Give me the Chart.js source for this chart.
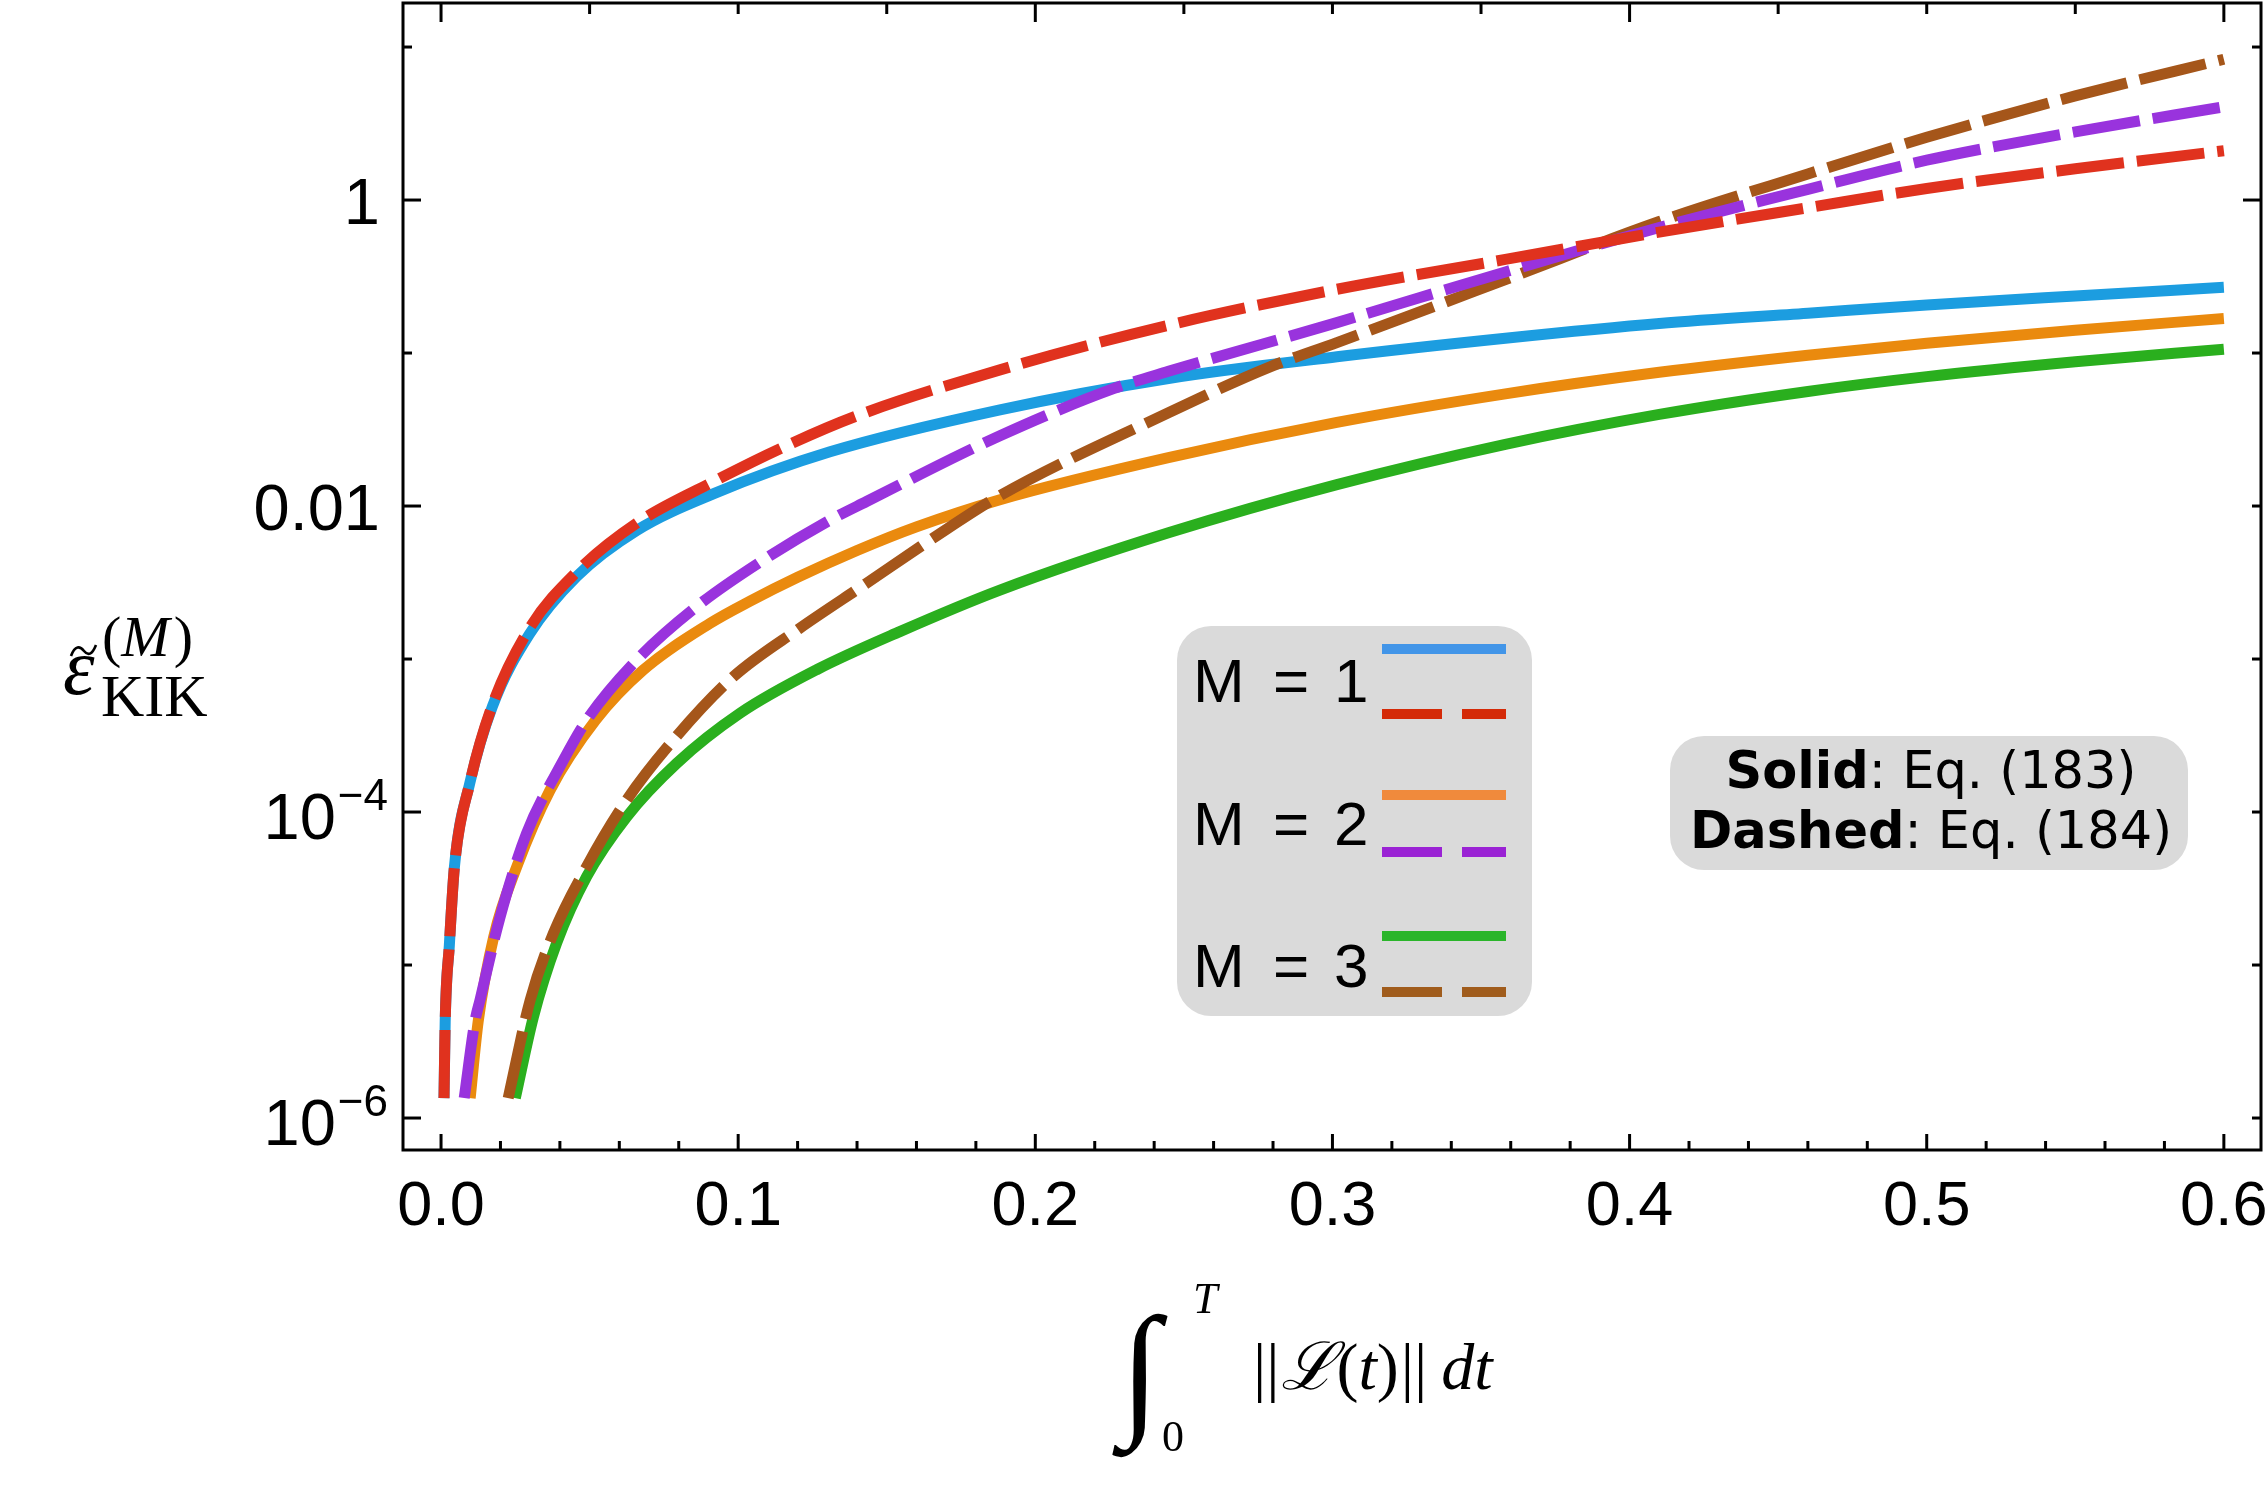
<!DOCTYPE html>
<html lang="en">
<head>
<meta charset="UTF-8" />
<title>KIK error bound vs integrated norm</title>
<style>
  html, body {
    margin: 0;
    padding: 0;
    background: #fff;
  }
  #wrap {
    width: 2268px;
    height: 1490px;
  }
</style>
</head>
<body>
<div id="wrap"><canvas id="kikChart" width="2268" height="1490"></canvas></div>

<script src="https://cdn.jsdelivr.net/npm/chart.js@4"></script>
<script>
  // Values (x = integral of ||L(t)||, y = error bound)
  const m1SolidX = [0.001, 0.0014, 0.0028, 0.0045, 0.0097, 0.0173, 0.0297, 0.0457, 0.0658, 0.0916, 0.1309, 0.1881, 0.2448, 0.3015, 0.3582, 0.41, 0.46, 0.5, 0.55, 0.6];
  const m1SolidY = [1.35e-6, 4.27e-6, 1.35e-5, 4.37e-5, 1.55e-4, 4.90e-4, 1.45e-3, 3.47e-3, 6.92e-3, 1.20e-2, 2.26e-2, 4.25e-2, 6.82e-2, 9.46e-2, 0.125, 0.156, 0.182, 0.206, 0.236, 0.269];

  const m1DashX = [0.001, 0.0014, 0.0028, 0.0045, 0.0097, 0.0173, 0.0297, 0.0457, 0.0658, 0.0916, 0.1141, 0.14, 0.1881, 0.2448, 0.3015, 0.3582, 0.41, 0.46, 0.5, 0.55, 0.6];
  const m1DashY = [1.35e-6, 4.27e-6, 1.35e-5, 4.37e-5, 1.55e-4, 5.01e-4, 1.58e-3, 3.72e-3, 7.71e-3, 1.44e-2, 2.37e-2, 3.89e-2, 7.76e-2, 0.152, 0.261, 0.409, 0.617, 0.891, 1.19, 1.60, 2.10];

  const m2SolidX = [0.0098, 0.0125, 0.0178, 0.0255, 0.0367, 0.052, 0.068, 0.0905, 0.104, 0.12, 0.14, 0.16, 0.1881, 0.2448, 0.3015, 0.3582, 0.41, 0.46, 0.5, 0.55, 0.6];
  const m2SolidY = [1.35e-6, 4.27e-6, 1.55e-5, 4.40e-5, 1.39e-4, 3.98e-4, 8.45e-4, 1.71e-3, 2.39e-3, 3.42e-3, 5.12e-3, 7.31e-3, 1.10e-2, 2.07e-2, 3.52e-2, 5.41e-2, 7.48e-2, 9.68e-2, 0.116, 0.141, 0.168];

  const m2DashX = [0.0078, 0.0114, 0.0131, 0.0199, 0.0288, 0.04, 0.049, 0.0658, 0.086, 0.1085, 0.1309, 0.1432, 0.1881, 0.2263, 0.2448, 0.3015, 0.3582, 0.41, 0.46, 0.5, 0.55, 0.6];
  const m2DashY = [1.35e-6, 4.27e-6, 5.89e-6, 2.07e-5, 7.26e-5, 1.98e-4, 3.98e-4, 9.84e-4, 2.20e-3, 4.44e-3, 8.09e-3, 1.07e-2, 2.88e-2, 5.85e-2, 7.59e-2, 0.158, 0.339, 0.661, 1.175, 1.82, 2.79, 4.07];

  const m3SolidX = [0.025, 0.0311, 0.0389, 0.049, 0.0625, 0.0793, 0.1006, 0.1264, 0.1544, 0.1881, 0.2448, 0.3015, 0.3582, 0.41, 0.46, 0.5, 0.55, 0.6];
  const m3SolidY = [1.35e-6, 4.59e-6, 1.39e-5, 3.78e-5, 9.31e-5, 2.08e-4, 4.42e-4, 8.51e-4, 1.51e-3, 2.82e-3, 6.68e-3, 1.38e-2, 2.53e-2, 3.97e-2, 5.61e-2, 7.01e-2, 8.77e-2, 0.106];

  const m3DashX = [0.0226, 0.03, 0.0378, 0.049, 0.0625, 0.0782, 0.0984, 0.1205, 0.1432, 0.1656, 0.1881, 0.2448, 0.279, 0.3015, 0.3582, 0.41, 0.46, 0.5, 0.55, 0.6];
  const m3DashY = [1.35e-6, 5.90e-6, 1.61e-5, 4.40e-5, 1.20e-4, 2.96e-4, 7.67e-4, 1.58e-3, 3.13e-3, 6.17e-3, 1.17e-2, 4.07e-2, 8.13e-2, 0.117, 0.302, 0.724, 1.48, 2.57, 4.79, 8.32];

  // Axis ticks
  const xTickLabels = [0, 0.1, 0.2, 0.3, 0.4, 0.5, 0.6];
  const xMinorBottom = [0.02, 0.04, 0.06, 0.08, 0.12, 0.14, 0.16, 0.18, 0.22, 0.24, 0.26, 0.28, 0.32, 0.34, 0.36, 0.38, 0.42, 0.44, 0.46, 0.48, 0.52, 0.54, 0.56, 0.58];
  const xMajorTop = [0, 0.2, 0.4, 0.6];
  const xMinorTop = [0.05, 0.1, 0.15, 0.25, 0.3, 0.35, 0.45, 0.5, 0.55];
  const yTickValues = [1, 0.01, 1e-4, 1e-6];
  const yTickLabels = [['1', ''], ['0.01', ''], ['10', '\u22124'], ['10', '\u22126']];
  const yMinorLeft = [10, 0.1, 1e-3, 1e-5];
  const yMajorRight = [1];
  const yMinorRight = [10, 0.1, 0.01, 1e-3, 1e-4, 1e-5, 1e-6];

  const legendRows = ['1', '2', '3'];

  const X_MIN = -0.0128, X_MAX = 0.6125;
  const Y_MIN = 6.18e-7, Y_MAX = 19.4;

  function toPoints(xs, ys) {
    return xs.map((x, i) => ({ x: x, y: ys[i] }));
  }

  // Colours of the curves and of the legend samples
  const COL = {
    m1s: '#1c9de0', m1d: '#e0321e',
    m2s: '#ea8a0e', m2d: '#9933dd',
    m3s: '#2aaf1e', m3d: '#a5561a'
  };
  const LEG = {
    m1s: '#4295e8', m1d: '#d42a08',
    m2s: '#f08a3c', m2d: '#9a22d4',
    m3s: '#2ab52a', m3d: '#a05c1c'
  };
  const DASH = [68, 13];

  const SERIF = "'Liberation Serif', 'DejaVu Serif', serif";
  const SANS = "'Liberation Sans', Arial, sans-serif";

  // draw a row of differently styled pieces of text
  function drawRuns(ctx, x, y, runs) {
    runs.forEach(r => {
      ctx.font = r.font;
      ctx.fillText(r.text, x, y + (r.dy || 0));
      x += ctx.measureText(r.text).width + (r.gap || 0);
    });
    return x;
  }
  function runsWidth(ctx, runs) {
    let w = 0;
    runs.forEach(r => {
      ctx.font = r.font;
      w += ctx.measureText(r.text).width + (r.gap || 0);
    });
    return w;
  }

  const decorations = {
    id: 'decorations',
    afterDraw(chart) {
      const ctx = chart.ctx;
      const xs = chart.scales.x, ys = chart.scales.y;
      const a = chart.chartArea;
      ctx.save();
      ctx.fillStyle = '#000';
      ctx.strokeStyle = '#000';
      ctx.lineWidth = 3;
      ctx.lineCap = 'butt';

      // frame
      ctx.strokeRect(a.left, a.top, a.right - a.left, a.bottom - a.top);

      // inward tick marks
      function vTick(v, edge, len, dir) {
        const px = xs.getPixelForValue(v);
        ctx.beginPath();
        ctx.moveTo(px, edge);
        ctx.lineTo(px, edge + dir * len);
        ctx.stroke();
      }
      function hTick(v, edge, len, dir) {
        const py = ys.getPixelForValue(v);
        ctx.beginPath();
        ctx.moveTo(edge, py);
        ctx.lineTo(edge + dir * len, py);
        ctx.stroke();
      }
      xTickLabels.forEach(v => vTick(v, a.bottom, 16, -1));
      xMinorBottom.forEach(v => vTick(v, a.bottom, 9, -1));
      xMajorTop.forEach(v => vTick(v, a.top, 19, 1));
      xMinorTop.forEach(v => vTick(v, a.top, 11, 1));
      yTickValues.forEach(v => hTick(v, a.left, 18, 1));
      yMinorLeft.forEach(v => hTick(v, a.left, 9, 1));
      yMajorRight.forEach(v => hTick(v, a.right, 18, -1));
      yMinorRight.forEach(v => hTick(v, a.right, 9, -1));

      // x tick labels
      ctx.textAlign = 'center';
      ctx.textBaseline = 'alphabetic';
      ctx.font = '63px ' + SANS;
      xTickLabels.forEach(v => {
        ctx.fillText(v.toFixed(1), xs.getPixelForValue(v), a.bottom + 75);
      });

      // y tick labels (with superscript exponents)
      ctx.textAlign = 'left';
      yTickValues.forEach((v, i) => {
        const py = ys.getPixelForValue(v);
        const base = yTickLabels[i][0], sup = yTickLabels[i][1];
        const right = a.left - 20;
        if (!sup) {
          ctx.font = '65px ' + SANS;
          const w = ctx.measureText(base).width;
          ctx.fillText(base, right - 3 - w, py + 24);
        } else {
          ctx.font = '44px ' + SANS;
          const ws = ctx.measureText(sup).width;
          ctx.fillText(sup, right + 5 - ws, py - 2);
          ctx.font = '65px ' + SANS;
          const wb = ctx.measureText(base).width;
          ctx.fillText(base, right + 3 - ws - wb, py + 27);
        }
      });

      // y axis title: tilde-epsilon with (M) and KIK
      ctx.lineWidth = 2.6;
      ctx.beginPath();
      ctx.moveTo(71, 656);
      ctx.bezierCurveTo(75, 645, 80, 646, 84, 651);
      ctx.bezierCurveTo(88, 656, 92, 655, 96, 645);
      ctx.stroke();
      ctx.font = 'italic 80px ' + SERIF;
      ctx.fillText('\u03b5', 63, 694);
      drawRuns(ctx, 102, 656, [
        { text: '(', font: '58px ' + SERIF },
        { text: 'M', font: 'italic 58px ' + SERIF, gap: 4 },
        { text: ')', font: '58px ' + SERIF }
      ]);
      ctx.font = '60px ' + SERIF;
      ctx.fillText('KIK', 101, 716);

      // x axis title: integral of ||L(t)|| dt
      ctx.font = '146px ' + SERIF;
      ctx.fillText('\u222b', 1120, 1418);
      ctx.font = 'italic 44px ' + SERIF;
      ctx.fillText('T', 1193, 1313);
      ctx.font = '44px ' + SERIF;
      ctx.fillText('0', 1162, 1451);
      drawRuns(ctx, 1253, 1389, [
        { text: '||', font: '66px ' + SERIF, gap: 2 },
        { text: '\u2112', font: 'italic 66px ' + SERIF },
        { text: '(', font: '66px ' + SERIF },
        { text: 't', font: 'italic 66px ' + SERIF },
        { text: ')', font: '66px ' + SERIF, gap: 2 },
        { text: '||', font: '66px ' + SERIF, gap: 14 },
        { text: 'dt', font: 'italic 66px ' + SERIF }
      ]);

      // legend box
      ctx.fillStyle = '#dadada';
      ctx.beginPath();
      ctx.roundRect(1177, 626, 355, 390, 34);
      ctx.fill();
      const rowBase = [702, 845, 987];
      const solidY = [649, 795, 936];
      const dashY = [714, 852, 992];
      const solidCol = [LEG.m1s, LEG.m2s, LEG.m3s];
      const dashCol = [LEG.m1d, LEG.m2d, LEG.m3d];
      ctx.font = '62px ' + SANS;
      legendRows.forEach((n, i) => {
        ctx.fillStyle = '#000';
        ctx.textAlign = 'left';
        ctx.fillText('M', 1193, rowBase[i]);
        ctx.textAlign = 'center';
        ctx.fillText('=', 1291, rowBase[i]);
        ctx.textAlign = 'left';
        ctx.fillText(n, 1334, rowBase[i]);
        ctx.lineWidth = 10;
        ctx.setLineDash([]);
        ctx.strokeStyle = solidCol[i];
        ctx.beginPath();
        ctx.moveTo(1382, solidY[i]);
        ctx.lineTo(1506, solidY[i]);
        ctx.stroke();
        ctx.setLineDash([60, 20]);
        ctx.strokeStyle = dashCol[i];
        ctx.beginPath();
        ctx.moveTo(1382, dashY[i]);
        ctx.lineTo(1506, dashY[i]);
        ctx.stroke();
      });
      ctx.setLineDash([]);

      // annotation box
      ctx.fillStyle = '#dadada';
      ctx.beginPath();
      ctx.roundRect(1670, 736, 518, 134, 34);
      ctx.fill();
      ctx.fillStyle = '#000';
      ctx.textAlign = 'left';
      const noteLines = [
        [{ text: 'Solid', font: 'bold 51px DejaVu Sans' }, { text: ': Eq. (183)', font: '51px DejaVu Sans' }],
        [{ text: 'Dashed', font: 'bold 51px DejaVu Sans' }, { text: ': Eq. (184)', font: '51px DejaVu Sans' }]
      ];
      const noteBase = [788, 848];
      noteLines.forEach((runs, i) => {
        const w = runsWidth(ctx, runs);
        drawRuns(ctx, 1931 - w / 2, noteBase[i], runs);
      });

      ctx.restore();
    }
  };

  function series(label, xs, ys, color, dashed) {
    return {
      label: label,
      data: toPoints(xs, ys),
      borderColor: color,
      backgroundColor: color,
      borderWidth: 11,
      borderDash: dashed ? DASH : [],
      fill: false,
      order: dashed ? 0 : 1
    };
  }

  const ctx = document.getElementById('kikChart').getContext('2d');
  const kikChart = new Chart(ctx, {
    type: 'line',
    data: {
      datasets: [
        series('M = 1, Eq. (183)', m1SolidX, m1SolidY, COL.m1s, false),
        series('M = 1, Eq. (184)', m1DashX, m1DashY, COL.m1d, true),
        series('M = 2, Eq. (183)', m2SolidX, m2SolidY, COL.m2s, false),
        series('M = 2, Eq. (184)', m2DashX, m2DashY, COL.m2d, true),
        series('M = 3, Eq. (183)', m3SolidX, m3SolidY, COL.m3s, false),
        series('M = 3, Eq. (184)', m3DashX, m3DashY, COL.m3d, true)
      ]
    },
    options: {
      responsive: false,
      animation: false,
      devicePixelRatio: 1,
      layout: { padding: { top: 3, right: 7, left: 0, bottom: 0 } },
      elements: {
        point: { radius: 0 },
        line: { cubicInterpolationMode: 'monotone', borderCapStyle: 'butt' }
      },
      plugins: {
        legend: { display: false },
        tooltip: { enabled: false }
      },
      scales: {
        x: {
          type: 'linear',
          min: X_MIN,
          max: X_MAX,
          grid: { display: false },
          border: { display: false },
          ticks: { display: false },
          afterFit(s) { s.height = 340; }
        },
        y: {
          type: 'logarithmic',
          min: Y_MIN,
          max: Y_MAX,
          grid: { display: false },
          border: { display: false },
          ticks: { display: false },
          afterFit(s) { s.width = 403; }
        }
      }
    },
    plugins: [decorations]
  });
</script>
</body>
</html>
